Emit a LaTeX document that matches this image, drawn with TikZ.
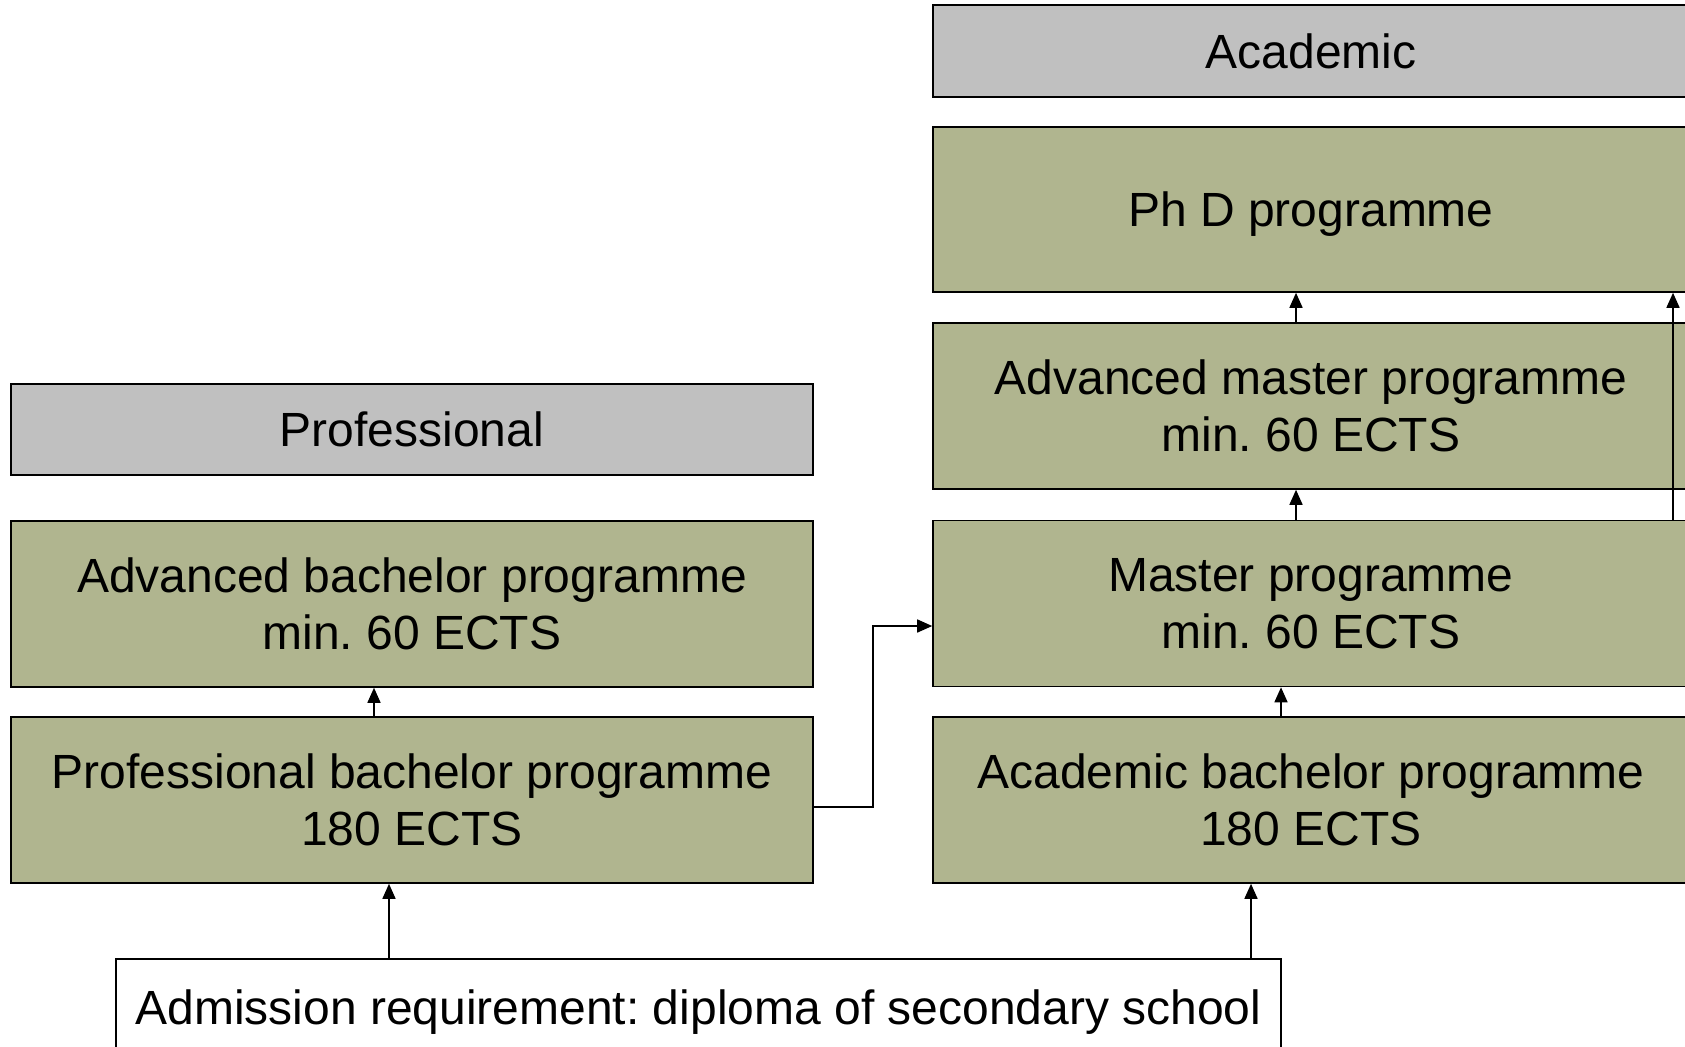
\documentclass[tikz,border=0pt]{standalone}
\usepackage{fontspec}
\setmainfont{Liberation Sans}
\usetikzlibrary{arrows.meta}
\definecolor{olive}{RGB}{176,181,143}
\definecolor{headgray}{RGB}{192,192,192}

\begin{document}
\frenchspacing
\begin{tikzpicture}[x=1pt, y=-1pt,
    prog/.style={draw=black, line width=1.6pt, fill=olive, align=center, inner sep=0pt},
    head/.style={draw=black, line width=1.6pt, fill=headgray, align=center, inner sep=0pt},
    conn/.style={line width=1.6pt, -{Triangle[length=15pt, width=13pt]}}]
    \useasboundingbox (0,0) rectangle (1685,1046);
    \clip (0,0) rectangle (1685,1046);
    \fontsize{48}{57}\selectfont

    % professional column
    \node[head, minimum width=802pt, minimum height=91pt] (profhead) at (412,429.5) {Professional};
    \node[prog, minimum width=802pt, minimum height=166pt] (advbach) at (412,604) {Advanced bachelor programme\\min. 60 ECTS};
    \node[prog, minimum width=802pt, minimum height=166pt] (profbach) at (412,800) {Professional bachelor programme\\180 ECTS};

    % academic column
    \node[head, minimum width=756pt, minimum height=92pt] (acadhead) at (1311,51) {Academic};
    \node[prog, minimum width=756pt, minimum height=165pt, text depth=0pt] (phd) at (1311,209.5) {Ph D programme};
    \node[prog, minimum width=756pt, minimum height=166pt] (advmaster) at (1311,406) {Advanced master programme\\min. 60 ECTS};
    \node[prog, minimum width=756pt, minimum height=166pt] (master) at (1311,603.5) {Master programme\\min. 60 ECTS};
    \node[prog, minimum width=756pt, minimum height=166pt] (acadbach) at (1311,800) {Academic bachelor programme\\180 ECTS};

    \node[draw=black, line width=1.6pt, fill=white, inner sep=0pt, text depth=0pt, minimum width=1165pt, minimum height=96pt] (admit) at (698.5,1007) {Admission requirement: diploma of secondary school};

    \draw[conn] (admit.north -| 389,0) -- (profbach.south -| 389,0);
    \draw[conn] (admit.north -| 1251,0) -- (acadbach.south -| 1251,0);
    \draw[conn] (profbach.north -| 374,0) -- (advbach.south -| 374,0);
    \draw[conn] (acadbach.north -| 1281,0) -- (master.south -| 1281,0);
    \draw[conn] (master.north -| 1296,0) -- (advmaster.south -| 1296,0);
    \draw[conn] (advmaster.north -| 1296,0) -- (phd.south -| 1296,0);
    \draw[conn] (master.north -| 1673,0) -- (phd.south -| 1673,0);
    \draw[conn] (profbach.east |- 0,807) -- (873,807) |- (master.west |- 0,626);
\end{tikzpicture}
\end{document}
